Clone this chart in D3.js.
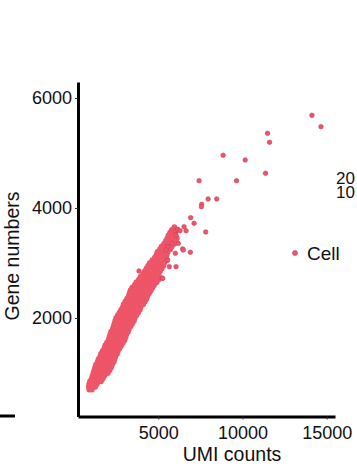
<!DOCTYPE html>
<html>
<head>
<meta charset="utf-8">
<script src="https://cdn.jsdelivr.net/npm/d3@7"></script>
<style>
  body { margin: 0; background: #fff; }
  svg text { font-family: "Liberation Sans", Arial, sans-serif; fill: #111; }
</style>
</head>
<body>
<div id="chart"></div>
<script>
// scattered cells (UMI counts, gene numbers)
var umiOut = [14125, 14661, 11488, 11607, 8851, 10161, 11369, 7423, 9643, 7958,
  8470, 7577, 7560, 6923, 7125, 7815, 6530, 6649, 6012, 6149, 6054, 6292,
  5815, 6190, 5554, 6446, 6905, 6012, 5458, 5554, 5655, 6054, 3854, 5220,
  6485, 5261];
var genesOut = [5685, 5478, 5358, 5195, 4958, 4873, 4631, 4496, 4496, 4164,
  4164, 4067, 4024, 3824, 3722, 3564, 3660, 3587, 3587, 3613, 3509, 3587,
  3358, 3358, 3296, 3255, 3195, 3176, 3236, 3055, 2933, 2933, 2855, 2722,
  3236, 2722];

// the dense band, one row of cells per gene level
var bandGenes = [3650, 3600, 3550, 3500, 3450, 3400, 3350, 3300, 3250, 3200,
  3150, 3100, 3050, 3000, 2950, 2900, 2850, 2800, 2750, 2700, 2650, 2600,
  2550, 2500, 2450, 2400, 2350, 2300, 2250, 2200, 2150, 2100, 2050, 2000,
  1950, 1900, 1850, 1800, 1750, 1700, 1650, 1600, 1550, 1500, 1450, 1400,
  1350, 1300, 1250, 1200, 1150, 1100, 1050, 1000, 950, 900, 850, 800, 750, 700];
var bandUmi = [
  [5950],
  [5800, 6100],
  [5700, 6000],
  [5600, 5900],
  [5550, 5850, 6100],
  [5450, 5750, 6000],
  [5350, 5650, 5950],
  [5200, 5500, 5800],
  [5100, 5400, 5700],
  [4950, 5250, 5550],
  [4900, 5200, 5500],
  [4800, 5100, 5450],
  [4650, 4950, 5250, 5500],
  [4500, 4800, 5100, 5350],
  [4400, 4700, 5000, 5300],
  [4300, 4600, 4900, 5200],
  [4200, 4500, 4800, 5100],
  [4100, 4400, 4700, 5000],
  [3950, 4250, 4550, 4850, 5050],
  [3850, 4150, 4450, 4750, 5000],
  [3700, 4000, 4300, 4600, 4900],
  [3600, 3900, 4200, 4500, 4750],
  [3450, 3750, 4050, 4350, 4650],
  [3350, 3650, 3950, 4250, 4550],
  [3300, 3600, 3900, 4200, 4450],
  [3250, 3550, 3850, 4100, 4350],
  [3150, 3450, 3750, 4050, 4300],
  [3050, 3350, 3650, 3950, 4200],
  [2950, 3250, 3550, 3850, 4100],
  [2900, 3200, 3500, 3750, 3950],
  [2800, 3100, 3400, 3650, 3900],
  [2700, 3000, 3300, 3550, 3800],
  [2600, 2900, 3200, 3450, 3700],
  [2500, 2800, 3100, 3350, 3600],
  [2450, 2750, 3050, 3300, 3550],
  [2400, 2700, 3000, 3250, 3450],
  [2350, 2600, 2900, 3150, 3350],
  [2300, 2550, 2800, 3050, 3250],
  [2200, 2500, 2750, 3000, 3200],
  [2150, 2450, 2700, 2950, 3100],
  [2100, 2350, 2600, 2850, 3050],
  [2050, 2300, 2550, 2800, 3000],
  [1950, 2200, 2450, 2700, 2900],
  [1850, 2100, 2350, 2600, 2800],
  [1800, 2050, 2300, 2500, 2700],
  [1700, 1950, 2200, 2400, 2600],
  [1600, 1850, 2100, 2350, 2550],
  [1550, 1800, 2050, 2300, 2450],
  [1450, 1700, 1950, 2200, 2400],
  [1400, 1650, 1900, 2150, 2350],
  [1300, 1550, 1800, 2050, 2250],
  [1250, 1500, 1750, 2000, 2200],
  [1200, 1450, 1700, 1950, 2100],
  [1150, 1400, 1650, 1850, 2000],
  [1100, 1350, 1600, 1800],
  [1050, 1300, 1550, 1700],
  [950, 1200, 1450, 1600],
  [900, 1150, 1350],
  [880, 1100, 1250],
  [900, 1050]
];

var xTicks = [5000, 10000, 15000];
var yTicks = [2000, 4000, 6000];
var sizeLabels = ["20", "10"];
var legendLabel = "Cell";

var dotFill = "#ee5568";
var dotStroke = "#c9415c";

var svg = d3.select("#chart").append("svg")
  .attr("width", 357)
  .attr("height", 469);

var x = d3.scaleLinear().domain([232, 15493]).range([78, 335]);
var y = d3.scaleLinear().domain([209, 6291]).range([416.5, 82]);

// flatten band rows
var band = [];
bandGenes.forEach(function(g, i){
  bandUmi[i].forEach(function(u){ band.push({u: u, g: g}); });
});
var outliers = umiOut.map(function(u, i){ return {u: u, g: genesOut[i]}; });

var dots = svg.append("g");
dots.selectAll("circle.band")
  .data(band).enter().append("circle")
  .attr("class", "band")
  .attr("cx", d => x(d.u))
  .attr("cy", d => y(d.g))
  .attr("r", 2.9)
  .attr("fill", dotFill);

dots.selectAll("circle.out")
  .data(outliers).enter().append("circle")
  .attr("class", "out")
  .attr("cx", d => x(d.u))
  .attr("cy", d => y(d.g))
  .attr("r", 2.3)
  .attr("fill", dotFill)
  .attr("stroke", dotStroke)
  .attr("stroke-width", 0.6);

// axes
var xAxis = svg.append("g")
  .attr("transform", "translate(0,416.5)")
  .call(d3.axisBottom(x).tickValues(xTicks).tickFormat(d3.format("d"))
    .tickSize(3).tickSizeOuter(0).tickPadding(7));
var yAxis = svg.append("g")
  .attr("transform", "translate(78,0)")
  .call(d3.axisLeft(y).tickValues(yTicks).tickFormat(d3.format("d"))
    .tickSize(3).tickSizeOuter(0).tickPadding(3));

[xAxis, yAxis].forEach(function(a){
  a.select(".domain").attr("stroke", "#000").attr("stroke-width", 3);
  a.selectAll(".tick line").attr("stroke", "#333").attr("stroke-width", 1);
  a.selectAll(".tick text").style("font-size", "18px").attr("fill", "#111");
});

svg.append("text")
  .attr("x", 232).attr("y", 461)
  .attr("text-anchor", "middle")
  .style("font-size", "19.5px")
  .text("UMI counts");

svg.append("text")
  .attr("transform", "translate(19,256) rotate(-90)")
  .attr("text-anchor", "middle")
  .style("font-size", "19.5px")
  .text("Gene numbers");

// legend
svg.append("circle")
  .attr("cx", 295).attr("cy", 253).attr("r", 2.5)
  .attr("fill", dotFill).attr("stroke", dotStroke).attr("stroke-width", 0.6);
svg.append("text")
  .attr("x", 307).attr("y", 259.5)
  .style("font-size", "19px")
  .text(legendLabel);

// clipped size legend at right edge
svg.selectAll("text.size")
  .data(sizeLabels).enter().append("text")
  .attr("class", "size")
  .attr("x", 336)
  .attr("y", (d, i) => 184 + i * 14)
  .style("font-size", "17px")
  .text(d => d);

// fragment of neighbouring panel axis
svg.append("line")
  .attr("x1", 0).attr("x2", 15)
  .attr("y1", 416).attr("y2", 416)
  .attr("stroke", "#000").attr("stroke-width", 3);
</script>
</body>
</html>
